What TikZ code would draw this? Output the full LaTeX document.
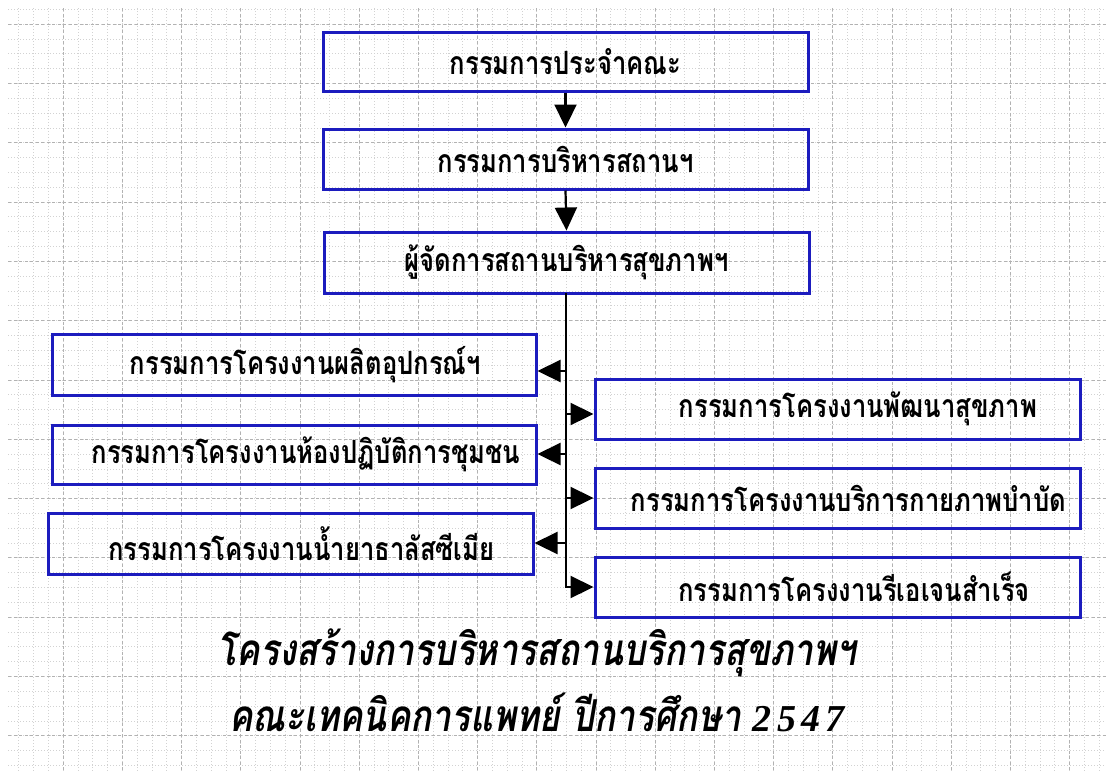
\documentclass[tikz,border=0pt]{standalone}
\usepackage{fontspec}
\newfontfamily\thaifont[Script=Thai, FakeStretch=0.8]{Loma}
\newfontfamily\numfont[LetterSpace=14]{Liberation Serif}
\usetikzlibrary{arrows.meta,calc}
\definecolor{boxblue}{RGB}{28,28,190}
\tikzset{
  minorgrid/.style={draw=gray!35, line width=0.5pt, dash pattern=on 1pt off 2pt},
  majorgrid/.style={draw=gray!60, line width=0.6pt, dash pattern=on 3pt off 2.5pt},
  orgbox/.style={draw=boxblue, line width=3pt, inner sep=0pt, minimum width=485pt, minimum height=60pt,
    font=\thaifont\bfseries\fontsize{32}{34}\selectfont, text=black},
  conn/.style={draw=black, line width=2.2pt, -{Triangle[length=23pt,width=22pt]}},
  titletext/.style={font=\thaifont\bfseries\itshape\fontsize{44}{46}\selectfont, text=black, inner sep=0pt}
}
\begin{document}
\begin{tikzpicture}[x=1pt,y=-1pt]
\useasboundingbox (0,0) rectangle (1106,772);
\fill[white] (0,0) rectangle (1106,772);
% grid
\foreach \k in {-3,...,70} \draw[minorgrid] ({63+14.8*\k},8) -- ({63+14.8*\k},772);
\foreach \k in {-1,...,50} \draw[minorgrid] (8,{24+14.825*\k}) -- (1106,{24+14.825*\k});
\foreach \k in {0,...,17} \draw[majorgrid] ({63+59.2*\k},8) -- ({63+59.2*\k},772);
\foreach \k in {0,...,12} \draw[majorgrid] (8,{24+59.3*\k}) -- (1106,{24+59.3*\k});

% boxes
\node[orgbox, minimum height=59pt] (b1) at (565.5,61.5) {กรรมการประจำคณะ};
\node[orgbox] (b2) at (565.5,159) {กรรมการบริหารสถานฯ};
\node[orgbox, minimum height=61pt] (b3) at (566.5,262.5) {ผู้จัดการสถานบริหารสุขภาพฯ};

\node[orgbox, minimum width=484pt, minimum height=61pt] (l1) at (294,364.5) {\hspace*{23pt}กรรมการโครงงานผลิตอุปกรณ์ฯ};
\node[orgbox, minimum width=484pt, minimum height=59pt] (l2) at (294,454.5) {\hspace*{24pt}กรรมการโครงงานห้องปฏิบัติการชุมชน};
\node[orgbox, minimum height=61pt] (l3) at (290.5,543.5) {\hspace*{22pt}กรรมการโครงงานน้ำยาธาลัสซีเมีย};

\node[orgbox] (r1) at (837.5,409) {\hspace*{41pt}กรรมการโครงงานพัฒนาสุขภาพ};
\node[orgbox] (r2) at (837.5,498) {\hspace*{22pt}กรรมการโครงงานบริการกายภาพบำบัด};
\node[orgbox] (r3) at (837.5,587) {\hspace*{33pt}กรรมการโครงงานรีเอเจนสำเร็จ};

% connectors
\draw[conn] (b1.south) -- (b2.north);
\draw[conn] (b2.south) -- (b3.north);
\coordinate (top) at (566,293);
\draw[conn] (top) |- (r3.west);
\coordinate (tl1) at (566,371);
\coordinate (tl2) at (566,454);
\coordinate (tl3) at (566,543);
\coordinate (tr1) at (566,414);
\coordinate (tr2) at (566,498);
\draw[conn] (tl1) -- (tl1 -| l1.east);
\draw[conn] (tl2) -- (tl2 -| l2.east);
\draw[conn] (tl3) -- (tl3 -| l3.east);
\draw[conn] (tr1) -- (tr1 -| r1.west);
\draw[conn] (tr2) -- (tr2 -| r2.west);

% title
\node[titletext] (t1) at (537,653) {โครงสร้างการบริหารสถานบริการสุขภาพฯ};
\node[titletext] (t2) at (537,712) {คณะเทคนิคการแพทย์ ปีการศึกษา {\numfont\bfseries\itshape\fontsize{38}{40}\selectfont 2547}};
\end{tikzpicture}
\end{document}
